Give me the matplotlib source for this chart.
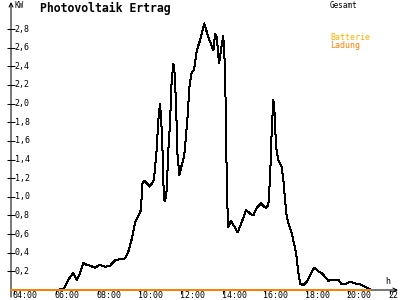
import matplotlib
matplotlib.use("Agg")
import matplotlib.pyplot as plt
from matplotlib.transforms import blended_transform_factory, offset_copy

# Gesamt (total output, kW) vs time of day (hours)
gesamt_t = [5.95, 6.34, 6.43, 6.67, 6.83, 6.99, 7.15, 7.31, 7.47, 7.63, 7.87, 8.11,
            8.35, 8.59, 8.83, 9.07, 9.31, 9.45, 9.62, 9.78, 9.94, 10.07, 10.13,
            10.23, 10.37, 10.47, 10.58, 10.69, 10.82, 10.90, 10.98, 11.03, 11.09,
            11.14, 11.17, 11.22, 11.30, 11.38, 11.46, 11.54, 11.62, 11.67, 11.75,
            11.81, 11.91, 12.02, 12.14, 12.29, 12.39, 12.50, 12.61, 12.74, 12.90,
            13.10, 13.30, 13.54, 13.62, 13.70, 13.81, 13.90, 14.01, 14.10, 14.14,
            14.18, 14.22, 14.25, 14.38, 14.49, 14.70, 14.90, 15.10, 15.29, 15.45,
            15.61, 15.82, 15.93, 16.05, 16.17, 16.20, 16.25, 16.33, 16.41, 16.46,
            16.54, 16.65, 16.73, 16.81, 16.89, 16.97, 17.05, 17.18, 17.29, 17.40,
            17.50, 17.61, 17.69, 17.85, 18.01, 18.17, 18.36, 18.57, 18.73, 18.89,
            19.04, 19.28, 19.52, 19.69, 19.84, 20.08, 20.32, 20.56, 20.80, 21.04]
gesamt_v = [0.0, 0.01, 0.035, 0.14, 0.18, 0.11, 0.18, 0.29, 0.27, 0.26, 0.24, 0.27,
            0.25, 0.26, 0.32, 0.33, 0.34, 0.40, 0.54, 0.72, 0.79, 0.86, 1.14,
            1.17, 1.14, 1.11, 1.14, 1.18, 1.50, 1.82, 2.00, 1.86, 1.58,
            1.18, 0.98, 0.95, 1.07, 1.50, 1.79, 2.25, 2.43, 2.36, 2.00,
            1.47, 1.23, 1.34, 1.44, 1.82, 2.18, 2.34, 2.36, 2.57, 2.68,
            2.86, 2.71, 2.57, 2.75, 2.71, 2.43, 2.57, 2.73, 2.36, 1.71,
            1.18, 0.82, 0.68, 0.74, 0.70, 0.62, 0.73, 0.86, 0.82, 0.80,
            0.88, 0.93, 0.90, 0.88, 0.91, 1.04, 1.18, 1.71, 2.04, 1.93,
            1.54, 1.39, 1.36, 1.32, 1.18, 0.96, 0.79, 0.68, 0.61, 0.50,
            0.39, 0.18, 0.07, 0.05, 0.09, 0.16, 0.24, 0.20, 0.18, 0.14,
            0.10, 0.11, 0.11, 0.06, 0.06, 0.09, 0.07, 0.06, 0.035, 0.01]

# Batterie Ladung (battery charge) series
ladung_t = [3.85, 21.02]
ladung_v = [0.0, 0.0]

x_ticks = [4, 6, 8, 10, 12, 14, 16, 18, 20, 22]
x_labels = ["04:00", "06:00", "08:00", "10:00", "12:00", "14:00", "16:00",
            "18:00", "20:00", "22:00"]
y_ticks = [0.2, 0.4, 0.6, 0.8, 1.0, 1.2, 1.4, 1.6, 1.8, 2.0, 2.2, 2.4, 2.6, 2.8]
y_labels = ["0,2", "0,4", "0,6", "0,8", "1,0", "1,2", "1,4", "1,6", "1,8",
            "2,0", "2,2", "2,4", "2,6", "2,8"]

MONO = "DejaVu Sans Mono"
C_LADUNG = "#FF8000"
C_BATT = "#FFB000"

fig = plt.figure(figsize=(4, 3), dpi=100)
fig.patch.set_facecolor("white")
ax = fig.add_axes([11 / 400, 10 / 300, 387 / 400, 288 / 300])
ax.set_xlim(3.844, 22.38)
ax.set_ylim(0, 3.09)
for s in ax.spines.values():
    s.set_visible(False)
ax.patch.set_visible(False)

# data
ax.plot(gesamt_t, gesamt_v, color="black", lw=0.72, antialiased=False,
        zorder=3)

# axes lines with arrows
ax.annotate("", xy=(0, 1.0), xytext=(0, -0.025), xycoords="axes fraction",
            arrowprops=dict(arrowstyle="->", lw=0.75, color="black",
                            shrinkA=0, shrinkB=0, mutation_scale=7))
ax.annotate("", xy=(1.0, 0), xytext=(0, 0), xycoords="axes fraction",
            arrowprops=dict(arrowstyle="->", lw=0.75, color="black",
                            shrinkA=0, shrinkB=0, mutation_scale=7))
ax.plot(ladung_t, ladung_v, color=C_LADUNG, lw=1.1, antialiased=False,
        zorder=4, clip_on=False)

# ticks
ax.set_xticks(x_ticks)
ax.set_yticks(y_ticks)
ax.tick_params(axis="y", direction="inout", length=6, width=0.75,
               labelleft=False)
ax.tick_params(axis="x", direction="out", length=3, width=0.75,
               labelbottom=False)

ytr = offset_copy(blended_transform_factory(ax.transAxes, ax.transData),
                  fig=fig, x=3.5, y=0, units="dots")
for v, lab in zip(y_ticks, y_labels):
    ax.text(0, v, lab, transform=ytr, ha="left", va="center",
            fontsize=6, family=MONO, clip_on=False)

xtr = offset_copy(blended_transform_factory(ax.transData, ax.transAxes),
                  fig=fig, x=-1.5, y=-1.5, units="dots")
for t, lab in zip(x_ticks, x_labels):
    ax.text(t, 0, lab, transform=xtr, ha="left", va="top",
            fontsize=6, family=MONO, clip_on=False)

# texts
fig.text(40 / 400, 1 - 8.5 / 300, "Photovoltaik Ertrag", fontsize=8.3,
         fontweight="bold", family=MONO, ha="left", va="center")
fig.text(14 / 400, 1 - 5 / 300, "KW", fontsize=5.5, family=MONO,
         ha="left", va="center")
fig.text(330 / 400, 1 - 5 / 300, "Gesamt", fontsize=5.5, family=MONO,
         ha="left", va="center")
fig.text(330 / 400, 1 - 37 / 300, "Batterie", fontsize=6, family=MONO,
         ha="left", va="center", color=C_BATT)
fig.text(330 / 400, 1 - 45 / 300, "Ladung", fontsize=6, family=MONO,
         ha="left", va="center", color=C_LADUNG)
fig.text(385 / 400, 1 - 282 / 300, "h", fontsize=6, family=MONO,
         ha="left", va="center")

fig.savefig("out.png", dpi=100)
